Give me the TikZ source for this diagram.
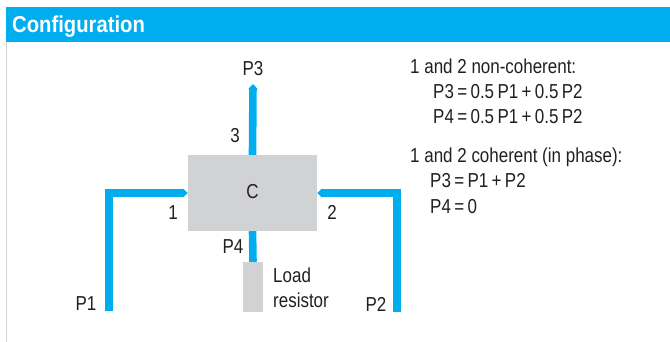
\documentclass[tikz,border=0pt]{standalone}
\usepackage{fontspec}
\setmainfont{Liberation Sans}[FakeStretch=0.84]
\newfontfamily\headfont{Liberation Sans}[FakeStretch=0.88]
\usetikzlibrary{arrows.meta}
\definecolor{cblue}{HTML}{00ADEF}
\definecolor{cgrey}{HTML}{D1D2D4}
\definecolor{cline}{HTML}{D4D4D4}
\definecolor{ctext}{HTML}{231F20}
\begin{document}
\begin{tikzpicture}[x=1pt,y=-1pt,
  lbl/.style={font=\fontsize{20.2}{22}\selectfont, text=ctext, inner sep=0pt},
  port/.style={draw=cblue, line width=7.6pt, line join=miter,
     -{Triangle[length=5pt,width=9pt]}},
  feed/.style={draw=cblue, line width=7.6pt},
  cbox/.style={fill=cgrey, minimum width=129pt, minimum height=76pt, inner sep=0pt},
  loadbox/.style={fill=cgrey, minimum width=20pt, minimum height=50pt, inner sep=0pt}]
\useasboundingbox (0,0) rectangle (670,342);
% header band
\fill[cblue] (6,7) rectangle (670,42);
\draw[cline, line width=1.3pt] (6.6,42) -- (6.6,342);
\node[anchor=base west, inner sep=0pt, text=white,
  font=\headfont\fontsize{23}{25}\selectfont\bfseries] (title) at (12,33) {Configuration};
% coupler
\node[cbox] (C) at (252.5,193) {};
\node[lbl, anchor=base] (cl) at (252.5,199) {C};
\node[loadbox] (R) at (253,287) {};
\coordinate (p3end) at (253,84);
\coordinate (p1end) at (109,311);
\coordinate (p2end) at (397,312);
\draw[port] (C.north) -- (p3end);
\draw[port] (p1end) |- (C.west);
\draw[port] (p2end) |- (C.east);
\draw[feed] (C.south) -- (R.north);
% labels
\node[lbl, anchor=base] (lp3) at (253,76) {P3};
\node[lbl, anchor=base] (l3) at (235,143) {3};
\node[lbl, anchor=base] (l1) at (173,220) {1};
\node[lbl, anchor=base] (l2) at (332,220) {2};
\node[lbl, anchor=base] (lp4) at (233,253) {P4};
\node[lbl, anchor=base] (lp1) at (86,310) {P1};
\node[lbl, anchor=base] (lp2) at (376,311) {P2};
\node[lbl, anchor=base west] (lload) at (273,282) {Load};
\node[lbl, anchor=base west] (lres) at (273,307) {resistor};
% equations
\node[lbl, anchor=base west] (t1) at (410,74) {1 and 2 non-coherent:};
\node[lbl, anchor=base west] (t2) at (433,99) {P3\,=\,0.5\,P1\,+\,0.5\,P2};
\node[lbl, anchor=base west] (t3) at (433,124) {P4\,=\,0.5\,P1\,+\,0.5\,P2};
\node[lbl, anchor=base west] (t4) at (410,163) {1 and 2 coherent (in phase):};
\node[lbl, anchor=base west] (t5) at (430,188) {P3\,=\,P1\,+\,P2};
\node[lbl, anchor=base west] (t6) at (430,214) {P4\,=\,0};
\end{tikzpicture}
\end{document}
